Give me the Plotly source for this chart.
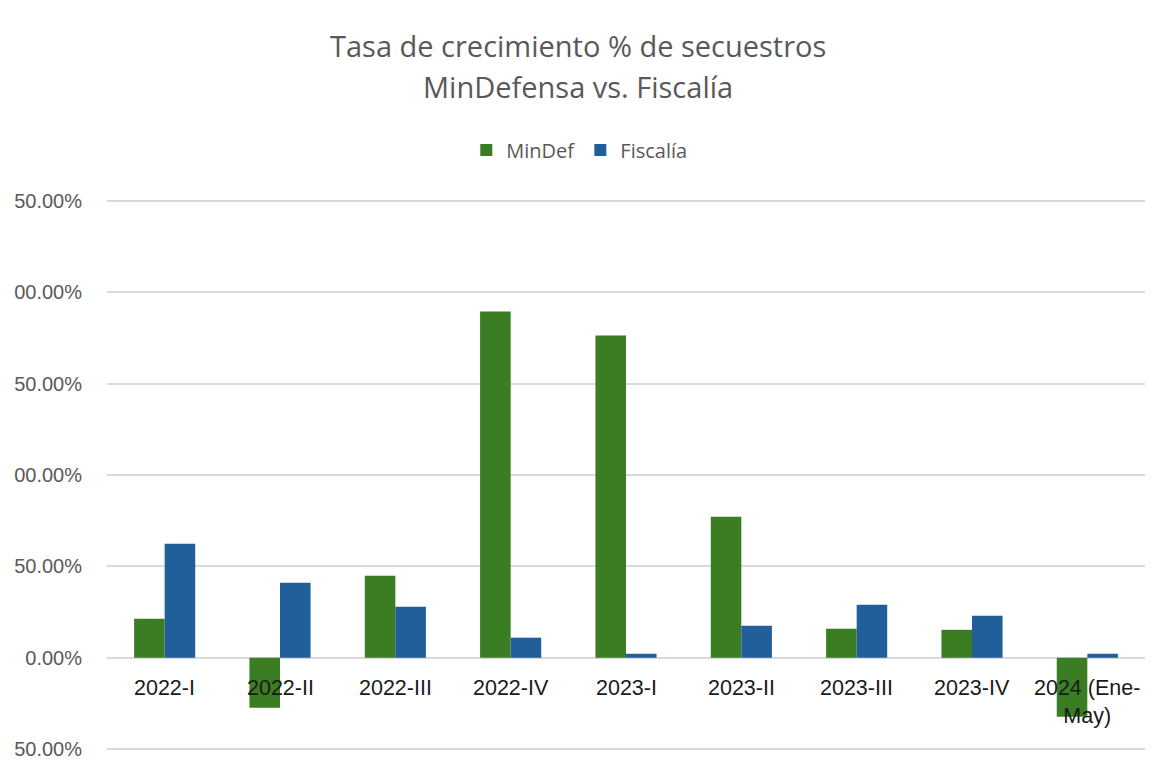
import plotly.graph_objs as go

periodos = ["2022-I", "2022-II", "2022-III", "2022-IV", "2023-I", "2023-II",
            "2023-III", "2023-IV", "2024 (Ene-May)"]
etiquetas = ["2022-I", "2022-II", "2022-III", "2022-IV", "2023-I", "2023-II",
             "2023-III", "2023-IV", "2024 (Ene-<br>May)"]
mindef = [21.4, -27.4, 44.9, 189.5, 176.3, 77.2, 15.9, 15.3, -32.3]
fiscalia = [62.4, 41.1, 27.9, 11.0, 2.2, 17.5, 29.0, 23.0, 2.2]

# the picture cuts the left side of the y tick labels, keep them as shown
y_ticks = [-50, 0, 50, 100, 150, 200, 250]
y_ticktext = ["50.00%", "0.00%", "50.00%", "00.00%", "50.00%", "00.00%", "50.00%"]

titulo1 = "Tasa de crecimiento % de secuestros"
titulo2 = "MinDefensa vs. Fiscalía"

verde = "#3B7D23"
azul = "#215F9A"
gris = "#595959"

bar1 = go.Bar(x=periodos, y=mindef, name="MinDef", marker=dict(color=verde, line=dict(width=0)))
bar2 = go.Bar(x=periodos, y=fiscalia, name="Fiscalía", marker=dict(color=azul, line=dict(width=0)))

layout = go.Layout(
    width=1169,
    height=771,
    paper_bgcolor="white",
    plot_bgcolor="white",
    margin=dict(l=99, r=32, t=191, b=28, autoexpand=False),
    font=dict(family="Liberation Sans, Arial", color=gris),
    barmode="group",
    bargap=0.47,
    bargroupgap=0,
    legend=dict(
        orientation="h", x=0.455, xanchor="center", y=1.0888, yanchor="middle",
        font=dict(family="Open Sans", size=20, color=gris),
        itemwidth=30,
    ),
    xaxis=dict(showticklabels=False, showgrid=False, zeroline=False, showline=False),
    yaxis=dict(
        range=[-51, 251],
        tickvals=y_ticks,
        ticktext=y_ticktext,
        showgrid=True,
        gridcolor="#D9D9D9",
        gridwidth=2,
        zeroline=False,
        automargin=False,
        ticklabelstandoff=24,
        tickfont=dict(size=20, color=gris),
    ),
)

fig = go.Figure(data=[bar1, bar2], layout=layout)

# two title lines as annotations to get Excel's wider line spacing
for texto, yy in [(titulo1, 1.2772), (titulo2, 1.2029)]:
    fig.add_annotation(
        x=0.4538, y=yy, xref="paper", yref="paper", text=texto, showarrow=False,
        xanchor="center", yanchor="middle",
        font=dict(family="Open Sans", size=29, color=gris),
    )

for p, t in zip(periodos, etiquetas):
    fig.add_annotation(
        x=p, y=0, xref="x", yref="y", text=t, showarrow=False,
        yanchor="top", yshift=-16,
        font=dict(family="Liberation Sans, Arial", size=21.5, color="#1a1a1a"),
    )

fig.write_html("out.html")
